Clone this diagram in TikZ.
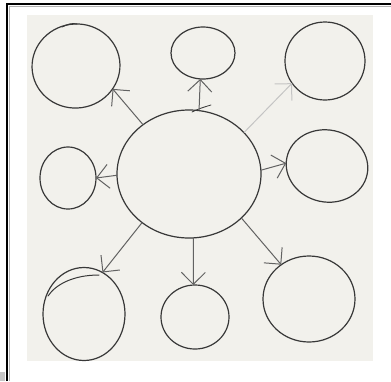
\documentclass[tikz,border=0pt]{standalone}
\usetikzlibrary{shapes.geometric,arrows.meta}
\definecolor{paper}{HTML}{F2F1EC}
\definecolor{ink}{HTML}{383838}
\definecolor{arrowink}{HTML}{626262}
\definecolor{faintink}{HTML}{C4C4C4}
\begin{document}
\begin{tikzpicture}[x=1pt,y=-1pt,
  bubble/.style={ellipse,draw=ink,line width=1.2pt,inner sep=0pt,outer sep=0pt},
  link/.style={draw=arrowink,line width=1pt,-{Straight Barb[length=12pt,width=24pt,line width=1pt]}},
  faintlink/.style={link,draw=faintink},
  sketch/.style={draw=ink,line width=1pt,line cap=round}]
\useasboundingbox (0,0) rectangle (391,381);
% frame and paper
\fill[gray!45] (0,372) rectangle (5,381);
\fill[paper] (27,15) rectangle (373,361);
\draw[line width=2pt,black] (7,381) -- (7,4) -- (391,4);
\draw[line width=0.8pt,gray!60] (9.5,381) -- (9.5,6.5) -- (391,6.5);
% bubbles
\node[bubble,minimum width=144pt,minimum height=128pt] (c) at (189,174) {};
\node[bubble,minimum width=88pt,minimum height=84pt,rotate=8] (tl) at (76,66) {};
\node[bubble,minimum width=64pt,minimum height=52pt] (tm) at (203,53) {};
\node[bubble,minimum width=80pt,minimum height=78pt] (tr) at (325,61) {};
\node[bubble,minimum width=56pt,minimum height=62pt] (ml) at (68,178) {};
\node[bubble,minimum width=82pt,minimum height=72pt,rotate=-12] (mr) at (327,166) {};
\node[bubble,minimum width=82pt,minimum height=93pt] (bl) at (84,314) {};
\node[bubble,minimum width=68pt,minimum height=64pt] (bm) at (195,317) {};
\node[bubble,minimum width=92pt,minimum height=86pt] (br) at (309,299) {};
% sketchy overshoot strokes
\draw[sketch] (62,27) .. controls (68,24) and (72,23) .. (77,24);
\draw[sketch] (48,296) .. controls (56,284) and (74,275) .. (99,275);
\draw[sketch,line width=0.8pt] (192,112) .. controls (198,109) and (204,107) .. (211,105);
% connectors
\draw[link] (c.133) -- (tl.320);
\draw[link] (c.81) -- (tm.264);
\draw[faintlink] (c.37) -- (tr.214);
\draw[link] (c.181) -- (ml.0);
\draw[link] (c.3) -- (mr.188);
\draw[link] (c.226) -- (bl.66);
\draw[link] (c.274) -- (bm.93);
\draw[link] (c.320) -- (br.129);
\end{tikzpicture}
\end{document}
